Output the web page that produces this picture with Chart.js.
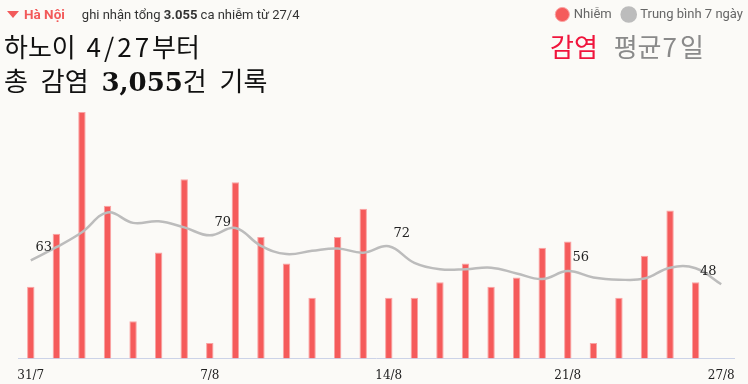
<!DOCTYPE html>
<html>
<head>
<meta charset="utf-8">
<script src="https://cdn.jsdelivr.net/npm/chart.js@4.4.0/dist/chart.umd.min.js"></script>
<style>
  html, body { margin: 0; padding: 0; background: #fbfaf7; }
  #wrap { position: relative; width: 748px; height: 384px; overflow: hidden; }
  #chart { position: absolute; left: 0; top: 0; }
  .head { position: absolute; left: 7px; top: 6px; font-family: Roboto, sans-serif; font-size: 13px; color: #333; white-space: nowrap; }
  .head .tri { display: inline-block; width: 0; height: 0; border-left: 6px solid transparent; border-right: 6px solid transparent; border-top: 7px solid #f25a5a; margin-right: 5px; vertical-align: 1px; }
  .head .city { color: #f25a5a; font-weight: bold; font-size: 13.5px; margin-right: 17px; }
  .title { position: absolute; font-family: "Noto Sans CJK KR", sans-serif; font-size: 26px; color: #111; white-space: nowrap; line-height: 1; word-spacing: 5px; }
  .title b { font-family: "DejaVu Serif", serif; font-weight: bold; font-size: 26px; }
  .title .num { letter-spacing: 3px; }
  .title .seven { padding: 0 3px 0 1px; }
  .red { color: #f0143c; }
  .grey { color: #8a8a8a; }
</style>
</head>
<body>
<div id="wrap">
  <canvas id="chart" width="748" height="384"></canvas>
  <div class="head"><span class="tri"></span><span class="city">Hà Nội</span>ghi nhận tổng <b>3.055</b> ca nhiễm từ 27/4</div>
  <div class="title" style="left:4px; top:33px;">하노이 <span class="num">4/27</span>부터</div>
  <div class="title" style="left:4px; top:67px; word-spacing: 7px;">총 감염 <b>3,055</b>건 기록</div>
  <div class="title" style="left:550px; top:33px; word-spacing: 10px;"><span class="red">감염</span> <span class="grey">평균<span class="seven">7</span>일</span></div>
</div>
<script>
const dates = ['31/7', '1/8', '2/8', '3/8', '4/8', '5/8', '6/8', '7/8', '8/8', '9/8', '10/8', '11/8', '12/8', '13/8',
    '14/8', '15/8', '16/8', '17/8', '18/8', '19/8', '20/8', '21/8', '22/8', '23/8', '24/8', '25/8', '26/8', '27/8'];

const shownTicks = ['31/7', '7/8', '14/8', '21/8', '27/8'];

const cases = [46, 80, 158, 98, 24, 68, 115, 10, 113, 78, 61, 39, 78, 96,
    39, 39, 49, 61, 46, 52, 71, 75, 10, 39, 66, 95, 49, 0];

const avg7 = [63, 71.4, 81, 93.7, 87, 88, 84.1, 79, 83.7, 72.3, 67, 69.1, 70.6, 67.9,
    72, 61.4, 57.3, 57.3, 58.3, 54.6, 51, 56.1, 52, 50.6, 51.3, 58.3, 57.9, 47.7];

const labelledDays = ['31/7', '7/8', '14/8', '21/8', '27/8'];

const avgLabels = {
    id: 'avgLabels',
    afterDatasetsDraw(chart) {
        const ctx = chart.ctx;
        const meta = chart.getDatasetMeta(1);
        ctx.save();
        ctx.font = '13px "DejaVu Serif", serif';
        ctx.fillStyle = '#222';
        ctx.textAlign = 'center';
        ctx.textBaseline = 'middle';
        labelledDays.forEach(function (d) {
            const i = dates.indexOf(d);
            const pt = meta.data[i];
            const dx = i === dates.length - 1 ? -13 : 13;
            ctx.fillText(Math.round(avg7[i]), pt.x + dx, pt.y - 13);
        });
        ctx.restore();
    }
};

new Chart(document.getElementById('chart'), {
    data: {
        labels: dates,
        datasets: [{
            type: 'bar',
            label: 'Nhiễm',
            data: cases,
            backgroundColor: '#f55b5b',
            borderColor: '#f9a3a3',
            borderWidth: 1,
            barPercentage: 0.29,
            categoryPercentage: 1,
            order: 2
        }, {
            type: 'line',
            label: 'Trung bình 7 ngày',
            data: avg7,
            borderColor: '#bcbcbc',
            backgroundColor: '#bcbcbc',
            borderWidth: 2.5,
            pointRadius: 0,
            tension: 0.4,
            order: 1
        }]
    },
    options: {
        responsive: false,
        animation: false,
        layout: { padding: { left: 18, right: -7, top: -4, bottom: -1 } },
        plugins: {
            legend: {
                position: 'top',
                align: 'end',
                labels: {
                    sort: function (a, b) { return a.datasetIndex - b.datasetIndex; },
                    usePointStyle: true,
                    pointStyle: 'circle',
                    boxWidth: 10,
                    boxHeight: 10,
                    padding: 12,
                    color: '#666',
                    font: { family: 'Roboto', size: 13 }
                }
            },
            tooltip: { enabled: false }
        },
        scales: {
            x: {
                offset: true,
                grid: { display: false },
                border: { color: '#ccd3e8' },
                ticks: {
                    autoSkip: false,
                    maxRotation: 0,
                    padding: 2,
                    color: '#222',
                    font: { family: 'DejaVu Serif', size: 12 },
                    callback: function (v) {
                        const d = dates[v];
                        return shownTicks.includes(d) ? d : '';
                    }
                }
            },
            y: {
                position: 'right',
                min: 0,
                max: 210,
                grid: { display: false },
                border: { display: false },
                ticks: { display: false },
                afterFit: function (s) { s.width = 21; }
            }
        }
    },
    plugins: [avgLabels]
});
</script>
</body>
</html>
